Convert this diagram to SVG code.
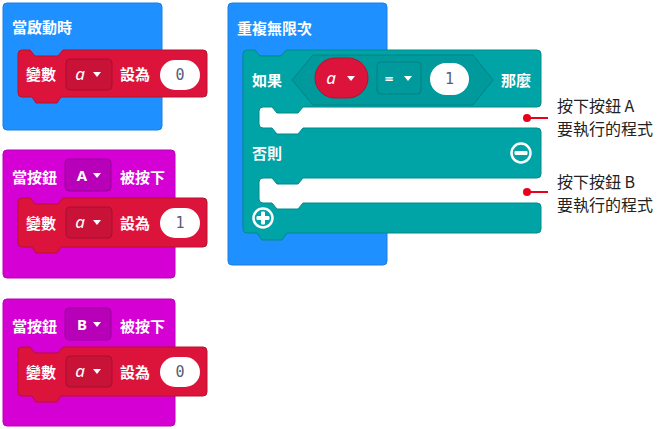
<svg xmlns="http://www.w3.org/2000/svg" width="660" height="429" viewBox="0 0 660 429">
<style>
.lbl{font-family:"Noto Sans CJK TC","Noto Sans",sans-serif;font-size:15px;font-weight:bold;fill:#fff}
.lat{font-family:"Noto Sans","DejaVu Sans",sans-serif;font-size:15px;font-weight:bold;fill:#fff}
.it{font-family:"Noto Sans","DejaVu Sans",sans-serif;font-size:17px;font-style:italic;fill:#fff;text-anchor:middle}
.num{font-family:"DejaVu Sans Mono","Liberation Mono",monospace;font-size:15px;fill:#575E75;text-anchor:middle}
.note{font-family:"Noto Sans CJK TC","Noto Sans",sans-serif;font-size:16px;fill:#222}
.blue{fill:#1E90FF;stroke:#1a7ee0;stroke-width:1}
.mag{fill:#D400D4;stroke:#b800b8;stroke-width:1}
.red{fill:#DC143C;stroke:#b8102f;stroke-width:1}
.teal{fill:#00A4A6;stroke:#008a8c;stroke-width:1}
.ddr{fill:#c81238;stroke:#a80f2e;stroke-width:1}
.ddm{fill:#b800b8;stroke:#9a009a;stroke-width:1}
.ddt{fill:#009a9c;stroke:#008284;stroke-width:1}
.oval{fill:#fff}
.tri{fill:#fff}
.ann{stroke:#e8001c;stroke-width:2}
.dot{fill:#e8001c}
</style>

<g id="on-start">
<rect class="blue" x="3" y="3" width="159" height="127" rx="4"/>
<text class="lbl" x="12" y="33">當啟動時</text>
</g>
<g id="set-a-0-start">
<path class="red" d="M 18,54 Q 18,50 22,50 H 30 l 5,6 h 23 l 5,-6 H 203 Q 207,50 207,54 V 93 Q 207,97 203,97 H 61 l -4,6 h -21 l -4,-6 H 22 Q 18,97 18,93 Z"/>
<text class="lbl" x="26" y="79.5">變數</text>
<rect class="ddr" x="66" y="59" width="46" height="31" rx="4"/>
<text class="it" x="80" y="80">a</text>
<polygon class="tri" points="93,72 101,72 97,77"/>
<text class="lbl" x="120" y="79.5">設為</text>
<rect class="oval" x="160" y="60" width="40" height="30" rx="15"/>
<text class="num" x="180" y="80">0</text>
</g>

<g id="on-button-a">
<rect class="mag" x="3" y="150" width="172" height="128" rx="4"/>
<text class="lbl" x="12" y="182.5">當按鈕</text>
<rect class="ddm" x="65" y="159" width="46" height="32" rx="4"/>
<text class="lat" x="82" y="181" text-anchor="middle">A</text>
<polygon class="tri" points="93,173 101,173 97,178"/>
<text class="lbl" x="120" y="182.5">被按下</text>
</g>
<g id="set-a-1">
<path class="red" d="M 18,202 Q 18,198 22,198 H 30 l 5,6 h 23 l 5,-6 H 203 Q 207,198 207,202 V 243 Q 207,247 203,247 H 61 l -4,6 h -21 l -4,-6 H 22 Q 18,247 18,243 Z"/>
<text class="lbl" x="26" y="228.5">變數</text>
<rect class="ddr" x="66" y="207" width="46" height="31" rx="4"/>
<text class="it" x="80" y="228">a</text>
<polygon class="tri" points="93,220 101,220 97,225"/>
<text class="lbl" x="120" y="228.5">設為</text>
<rect class="oval" x="160" y="208" width="40" height="30" rx="15"/>
<text class="num" x="180" y="228">1</text>
</g>

<g id="on-button-b">
<rect class="mag" x="3" y="299" width="172" height="127" rx="4"/>
<text class="lbl" x="12" y="331.5">當按鈕</text>
<rect class="ddm" x="65" y="308" width="46" height="32" rx="4"/>
<text class="lat" x="82" y="330" text-anchor="middle">B</text>
<polygon class="tri" points="93,322 101,322 97,327"/>
<text class="lbl" x="120" y="331.5">被按下</text>
</g>
<g id="set-a-0-b">
<path class="red" d="M 18,351 Q 18,347 22,347 H 30 l 5,6 h 23 l 5,-6 H 203 Q 207,347 207,351 V 392 Q 207,396 203,396 H 61 l -4,6 h -21 l -4,-6 H 22 Q 18,396 18,392 Z"/>
<text class="lbl" x="26" y="377.5">變數</text>
<rect class="ddr" x="66" y="356" width="46" height="31" rx="4"/>
<text class="it" x="80" y="377">a</text>
<polygon class="tri" points="93,369 101,369 97,374"/>
<text class="lbl" x="120" y="377.5">設為</text>
<rect class="oval" x="160" y="357" width="40" height="30" rx="15"/>
<text class="num" x="180" y="377">0</text>
</g>

<g id="forever">
<path class="blue" d="M 232,3 H 383 Q 387,3 387,7 V 56 H 243 V 226 H 387 V 261 Q 387,265 383,265 H 232 Q 228,265 228,261 V 7 Q 228,3 232,3 Z"/>
<text class="lbl" x="237" y="33.5">重複無限次</text>
</g>

<g id="if-else">
<path class="teal" d="M 243,54 Q 243,50 247,50 H 255 l 5,6 h 21 l 5,-6 H 537 Q 541,50 541,54 V 103 Q 541,107 537,107 H 303 l -5,6 h -21 l -5,-6 H 263 Q 259,107 259,111 V 124 Q 259,128 263,128 H 272 l 5,6 h 21 l 5,-6 H 537 Q 541,128 541,132 V 174 Q 541,178 537,178 H 303 l -5,6 h -21 l -5,-6 H 263 Q 259,178 259,182 V 199 Q 259,203 263,203 H 272 l 5,6 h 21 l 5,-6 H 537 Q 541,203 541,207 V 229 Q 541,233 537,233 H 287 l -5,7 h -20 l -5,-7 H 247 Q 243,233 243,229 Z"/>
<text class="lbl" x="252" y="85.5">如果</text>
<polygon class="ddt" points="292,80 313,55 473,55 493,80 473,105 313,105"/>
<rect fill="#DC143C" stroke="#b8102f" x="315" y="58" width="53" height="40" rx="20"/>
<text class="it" x="331" y="84">a</text>
<polygon class="tri" points="347,76 355,76 351,81"/>
<rect class="ddt" x="377" y="62" width="44" height="32" rx="4"/>
<text class="lat" x="389" y="84" text-anchor="middle">=</text>
<polygon class="tri" points="404,76 412,76 408,81"/>
<rect class="oval" x="430" y="63" width="39" height="32" rx="16"/>
<text class="num" x="449.5" y="84">1</text>
<text class="lbl" x="501" y="85.5">那麼</text>
<text class="lbl" x="252" y="158.5">否則</text>
<circle cx="521" cy="153" r="9.5" fill="none" stroke="#fff" stroke-width="2.5"/>
<rect x="514.5" y="151" width="13" height="4" rx="1" fill="#fff"/>
<circle cx="263" cy="218" r="9.5" fill="none" stroke="#fff" stroke-width="2.5"/>
<rect x="256.5" y="216" width="13" height="4" rx="1" fill="#fff"/>
<rect x="261" y="211.5" width="4" height="13" rx="1" fill="#fff"/>
</g>

<g id="connectors">
<line class="ann" x1="527" y1="118" x2="548" y2="118"/>
<circle class="dot" cx="527" cy="118" r="4"/>
<line class="ann" x1="527" y1="192" x2="548" y2="192"/>
<circle class="dot" cx="527" cy="192" r="4"/>
</g>

<g id="note-a">
<text class="note" x="557" y="112">按下按鈕 A</text>
<text class="note" x="557" y="135">要執行的程式</text>
</g>
<g id="note-b">
<text class="note" x="557" y="188">按下按鈕 B</text>
<text class="note" x="557" y="211">要執行的程式</text>
</g>
</svg>
